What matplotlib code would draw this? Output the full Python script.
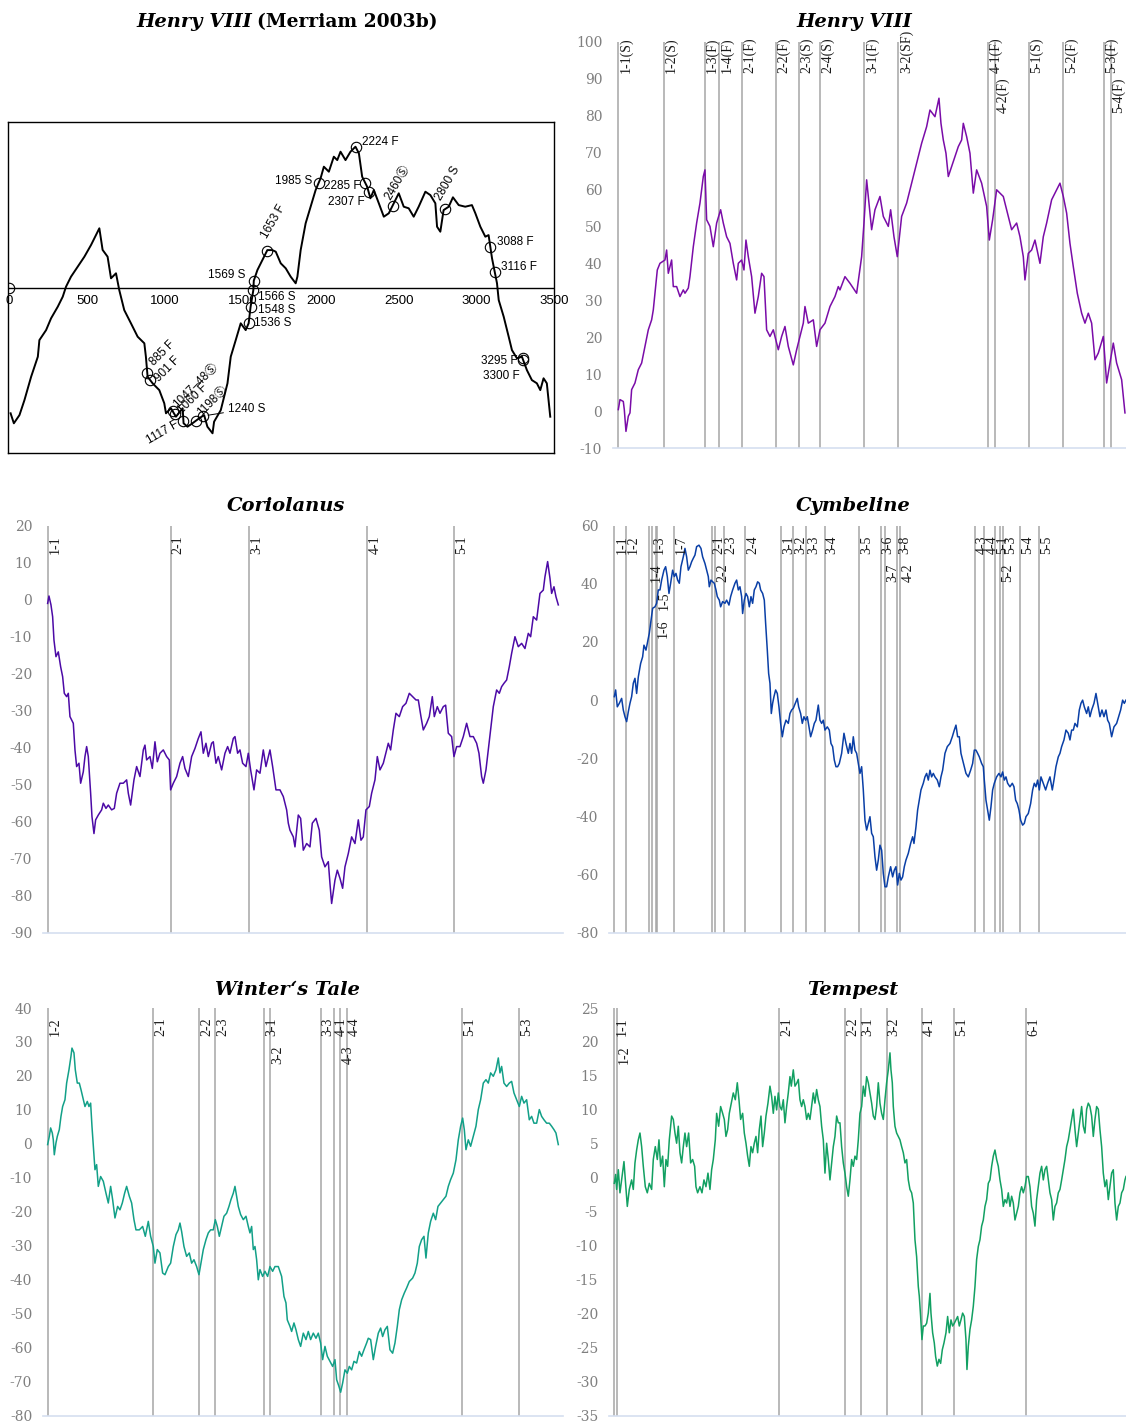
import numpy as np
import matplotlib.pyplot as plt

plt.rcParams['axes.unicode_minus'] = False

W, H = 1126, 1421

# ---------------- Henry VIII, Merriam (2003b) cumulative plot (word position, score)
merriam_pts = [(7, -62.8), (28, -67.8), (64, -63.7), (96, -56.2), (139, -44.5), (182, -34.5),
               (192, -26.2), (235, -21.2), (267, -15.3), (310, -9.5), (342, -4.5), (363, 0.5),
               (395, 5.5), (438, 10.5), (481, 15.5), (524, 21.4), (577, 29.7), (598, 18.9),
               (630, 15.5), (652, 4.7), (684, 7.2), (705, -1.2), (737, -11.2), (780, -17.8),
               (823, -24.5), (866, -27.8), (876, -34.5), (887, -44.5), (919, -47.8), (962, -51.2),
               (994, -57.8), (1005, -62.8), (1037, -60.3), (1069, -64.5), (1112, -60.3), (1118, -67.8),
               (1143, -69.5), (1175, -67.8), (1218, -65.3), (1250, -63.7), (1271, -69.5), (1304, -72.8),
               (1314, -67.0), (1357, -61.2), (1400, -47.8), (1421, -34.5), (1453, -26.2), (1485, -17.8),
               (1517, -21.2), (1536, -17.8), (1548, -9.8), (1566, -1.2), (1569, 3.5), (1592, 8.8),
               (1635, 15.5), (1656, 18.8), (1688, 18.8), (1710, 18.0), (1742, 12.2), (1774, 9.7),
               (1806, 5.5), (1838, 2.2), (1849, 5.5), (1870, 18.8), (1902, 32.2), (1934, 40.5),
               (1966, 48.8), (1998, 54.7), (2019, 60.5), (2051, 58.0), (2083, 65.5), (2105, 63.8),
               (2126, 68.0), (2158, 63.8), (2190, 68.0), (2222, 70.5), (2244, 67.2), (2265, 55.5),
               (2297, 50.5), (2318, 44.7), (2340, 48.8), (2372, 42.2), (2404, 35.5), (2436, 37.2),
               (2468, 42.2), (2500, 47.2), (2532, 40.5), (2564, 39.7), (2596, 35.5), (2628, 40.5),
               (2671, 48.0), (2703, 46.3), (2735, 42.2), (2746, 30.5), (2767, 28.0), (2788, 38.8),
               (2821, 40.5), (2848, 45.2), (2885, 41.3), (2927, 40.5), (2970, 41.3), (2992, 37.2),
               (3024, 30.5), (3056, 25.5), (3077, 26.3), (3099, 14.7), (3131, 2.2), (3142, -6.2),
               (3174, -14.5), (3206, -24.5), (3227, -31.2), (3259, -35.3), (3291, -34.5), (3323, -41.2),
               (3355, -46.2), (3387, -47.8), (3409, -51.2), (3430, -45.3), (3451, -47.8), (3473, -64.5)]
merriam_ticks = [0, 500, 1000, 1500, 2000, 2500, 3000, 3500]
merriam_notes = [('885 F', 885), ('901 F', 901), ('1047\u201348\u24c8', 1047), ('1060 F', 1060),
                 ('1198\u24c8', 1198), ('1117 F', 1117), ('1240 S', 1240), ('1536 S', 1536),
                 ('1548 S', 1548), ('1566 S', 1566), ('1569 S', 1569), ('1653 F', 1653),
                 ('1985 S', 1985), ('2224 F', 2224), ('2285 F', 2285), ('2307 F', 2307),
                 ('2460\u24c8', 2460), ('2800 S', 2800), ('3088 F', 3088), ('3116 F', 3116),
                 ('3295 F', 3295), ('3300 F', 3300)]
# text placement (offset px from the circle, rotation, alignment)
note_place = [(5, 9, 45, 'left'), (7, 0, 45, 'left'), (3, 5, 45, 'left'), (5, 2, 45, 'left'),
              (3, 6, 45, 'left'), (-5, -3, 30, 'right'), (25, 7, 0, 'left'), (5, 0, 0, 'left'),
              (7, -3, 0, 'left'), (5, -7, 0, 'left'), (-8, 6, 0, 'right'), (-2, 14, 60, 'left'),
              (-6, 2, 0, 'right'), (6, 5, 0, 'left'), (-5, -3, 0, 'right'), (-4, -10, 0, 'right'),
              (-5, 7, 60, 'left'), (-7, 9, 60, 'left'), (7, 5, 0, 'left'), (6, 5, 0, 'left'),
              (-5, -3, 0, 'right'), (-4, -16, 0, 'right')]

# ---------------- Henry VIII (position in play, cumulative score)
henry = [(0, 0.4), (5, 3.1), (15, 2.6), (18, 0.4), (23, -5.5), (30, -1.4), (35, -0.5), (40, 5.8),
         (50, 7.6), (60, 11.2), (70, 13.0), (80, 17.5), (90, 22.0), (100, 24.7), (105, 27.4),
         (117, 38.2), (125, 40.0), (140, 40.9), (145, 43.6), (150, 37.3), (160, 40.9), (165, 33.7),
         (175, 33.7), (185, 31.0), (195, 32.8), (200, 31.9), (210, 33.3), (215, 36.4), (225, 44.5),
         (235, 50.9), (245, 56.3), (255, 63.5), (260, 65.3), (265, 51.8), (275, 50.0), (285, 44.5),
         (295, 50.9), (307, 54.5), (315, 50.9), (325, 47.2), (335, 45.4), (345, 40.0), (355, 35.5),
         (360, 40.0), (370, 40.9), (377, 38.2), (383, 46.3), (390, 41.8), (400, 36.4), (410, 26.5),
         (420, 31.0), (430, 37.3), (437, 36.4), (445, 22.0), (455, 20.2), (465, 22.0), (480, 16.6),
         (490, 20.2), (500, 22.9), (510, 17.5), (525, 12.5), (535, 16.6), (545, 20.2), (555, 23.8),
         (560, 28.3), (570, 23.8), (585, 24.7), (595, 17.5), (605, 22.0), (620, 23.8), (635, 28.3),
         (650, 31.0), (660, 33.7), (665, 32.8), (680, 36.4), (695, 34.6), (715, 31.9), (730, 41.8),
         (737, 50.9), (745, 62.6), (760, 49.1), (770, 54.5), (785, 58.1), (795, 52.7), (810, 50.0),
         (817, 54.5), (827, 47.2), (837, 41.8), (850, 52.7), (865, 56.3), (880, 61.7), (895, 67.1),
         (910, 72.5), (925, 77.0), (935, 81.5), (950, 79.7), (962, 84.7), (968, 77.9), (975, 73.4),
         (983, 69.8), (990, 63.5), (1000, 66.2), (1010, 68.9), (1020, 71.6), (1030, 73.4), (1035, 77.9),
         (1045, 74.3), (1055, 69.8), (1065, 59.0), (1075, 65.3), (1090, 61.7), (1105, 55.4), (1113, 46.3),
         (1123, 51.8), (1135, 59.9), (1145, 59.0), (1155, 58.1), (1165, 54.5), (1180, 49.1), (1195, 50.9),
         (1205, 47.2), (1215, 41.8), (1220, 35.5), (1230, 42.7), (1240, 43.6), (1250, 46.3), (1265, 40.0),
         (1275, 47.2), (1285, 50.9), (1300, 57.2), (1310, 59.0), (1325, 61.7), (1335, 58.1), (1345, 53.6),
         (1355, 45.4), (1365, 39.1), (1377, 31.9), (1390, 26.5), (1400, 23.8), (1410, 26.5), (1420, 23.8),
         (1430, 13.9), (1440, 15.7), (1455, 20.2), (1465, 7.6), (1475, 13.0), (1485, 18.4), (1495, 13.0),
         (1510, 8.5), (1520, -0.5)]
henry_scenes = ['1-1(S)', '1-2(S)', '1-3(F)', '1-4(F)', '2-1(F)', '2-2(F)', '2-3(S)', '2-4(S)',
                '3-1(F)', '3-2(SF)', '4-1(F)', '4-2(F)', '5-1(S)', '5-2(F)', '5-3(F)', '5-4(F)']
henry_scene_x = [0, 136, 259, 303, 370, 473, 542, 606, 738, 840, 1110, 1131, 1232, 1335, 1456, 1478]
henry_rows = [1, 1, 1, 1, 1, 1, 1, 1, 1, 1, 1, 2, 1, 1, 1, 2]

# ---------------- Coriolanus
coriolanus = [(0, -1.0), (4, 1.0), (10, -1.4), (15, -4.6), (19, -10.9), (25, -15.4), (32, -14.1),
              (39, -18.1), (45, -20.8), (50, -25.3), (57, -26.2), (62, -25.3), (67, -31.6), (72, -32.5),
              (77, -33.4), (82, -40.6), (87, -45.1), (94, -44.2), (99, -49.6), (107, -46.5), (112, -42.4),
              (117, -39.7), (122, -42.4), (129, -52.3), (133, -58.6), (139, -63.2), (144, -59.5),
              (152, -58.2), (162, -56.8), (167, -55.0), (175, -56.4), (182, -55.5), (192, -56.8),
              (200, -56.4), (207, -52.3), (217, -49.6), (227, -49.6), (237, -48.7), (242, -52.3),
              (249, -55.5), (259, -48.7), (267, -45.1), (277, -47.8), (287, -40.6), (292, -39.3),
              (297, -43.3), (307, -42.4), (314, -45.6), (322, -38.4), (329, -43.8), (337, -41.5),
              (347, -40.6), (357, -42.4), (365, -43.3), (369, -51.4), (377, -49.6), (387, -47.8),
              (397, -44.2), (405, -42.4), (412, -45.6), (422, -47.8), (432, -42.4), (442, -40.2),
              (452, -37.5), (460, -35.7), (467, -41.5), (475, -38.8), (482, -42.4), (492, -38.8),
              (497, -38.4), (505, -44.2), (512, -42.4), (522, -46.0), (532, -41.5), (540, -39.7),
              (547, -41.5), (557, -37.5), (562, -37.0), (570, -41.5), (577, -40.6), (585, -44.2),
              (595, -45.1), (602, -41.5), (609, -46.0), (619, -51.4), (627, -46.0), (637, -46.9),
              (647, -40.6), (655, -45.1), (667, -40.6), (675, -45.1), (685, -51.4), (697, -51.4),
              (707, -53.2), (717, -56.8), (722, -60.4), (727, -62.3), (737, -64.1), (742, -66.8),
              (752, -58.2), (759, -59.1), (767, -67.7), (777, -65.9), (787, -66.8), (794, -60.4),
              (805, -59.1), (815, -62.3), (822, -69.5), (832, -72.2), (842, -70.8), (847, -76.7),
              (852, -82.1), (862, -75.8), (869, -73.1), (877, -75.3), (885, -78.0), (892, -72.2),
              (902, -68.6), (912, -64.1), (922, -65.9), (932, -59.5), (940, -65.0), (947, -64.1),
              (955, -56.8), (965, -55.9), (972, -52.3), (982, -48.7), (989, -42.4), (997, -46.0),
              (1007, -44.2), (1017, -40.6), (1022, -38.8), (1029, -40.6), (1037, -35.2), (1045, -30.7),
              (1055, -31.6), (1065, -28.9), (1075, -28.0), (1085, -25.3), (1095, -26.2), (1105, -27.1),
              (1112, -27.1), (1120, -31.6), (1127, -35.2), (1137, -33.4), (1145, -31.6), (1154, -26.2),
              (1160, -31.6), (1169, -28.9), (1177, -30.7), (1187, -28.9), (1194, -28.5), (1202, -36.1),
              (1212, -37.0), (1219, -42.4), (1227, -39.7), (1237, -39.7), (1247, -37.0), (1257, -33.4),
              (1267, -37.0), (1277, -37.0), (1287, -38.8), (1294, -41.5), (1302, -47.8), (1307, -49.6),
              (1315, -46.0), (1322, -40.6), (1329, -35.2), (1337, -28.9), (1347, -24.4), (1355, -25.3),
              (1362, -23.5), (1369, -22.6), (1377, -21.7), (1385, -18.1), (1392, -14.5), (1402, -10.0),
              (1412, -12.7), (1422, -11.8), (1432, -13.2), (1442, -9.1), (1449, -10.0), (1457, -4.6),
              (1467, -5.5), (1477, 1.7), (1487, 2.6), (1492, 6.2), (1500, 10.3), (1507, 5.8),
              (1512, 1.7), (1519, 3.5), (1525, 0.8), (1532, -1.4)]
coriolanus_scenes = ['1-1', '2-1', '3-1', '4-1', '5-1']
coriolanus_scene_x = [0, 369, 605, 959, 1219]
coriolanus_rows = [1, 1, 1, 1, 1]

# ---------------- Cymbeline
cymbeline = [(0, 1.2), (4, 3.5), (9, -2.3), (15, -1.1), (22, 0.6), (27, -3.4), (32, -5.7), (37, -7.4),
             (42, -4.0), (47, -1.1), (52, 1.2), (57, 5.8), (62, 7.5), (67, 2.3), (72, 8.0), (79, 12.6),
             (85, 14.9), (89, 18.9), (95, 17.2), (99, 19.5), (105, 23.0), (109, 26.4), (115, 31.6),
             (122, 32.1), (127, 33.3), (132, 37.9), (137, 37.9), (142, 41.3), (149, 44.7), (154, 45.9),
             (159, 42.5), (164, 36.7), (169, 40.2), (175, 44.7), (180, 42.5), (185, 43.6), (190, 41.3),
             (195, 40.2), (200, 45.9), (207, 49.3), (212, 52.2), (217, 49.3), (222, 44.7), (227, 45.9),
             (232, 47.6), (237, 48.8), (242, 49.9), (247, 52.8), (254, 53.3), (260, 52.2), (265, 49.3),
             (272, 47.0), (277, 44.7), (282, 42.5), (285, 39.0), (290, 41.3), (295, 40.7), (300, 40.2),
             (305, 37.9), (309, 35.6), (315, 34.4), (319, 32.1), (325, 33.9), (332, 33.3), (337, 34.4),
             (344, 32.7), (349, 35.6), (355, 37.9), (362, 40.2), (367, 41.3), (372, 37.9), (377, 39.0),
             (382, 35.6), (385, 29.8), (390, 34.4), (395, 36.7), (400, 35.6), (405, 32.1), (410, 35.6),
             (415, 33.3), (420, 37.9), (425, 39.0), (430, 40.7), (435, 40.2), (439, 37.9), (445, 36.7),
             (450, 34.4), (454, 26.4), (459, 17.2), (463, 9.2), (467, 5.8), (471, -4.6), (475, -1.1),
             (479, 1.2), (484, 3.5), (489, 2.3), (494, -2.3), (499, -8.0), (504, -12.6), (509, -9.2),
             (515, -6.9), (522, -8.0), (527, -4.6), (532, -3.4), (537, -2.8), (543, -1.1), (549, 0.6),
             (553, -2.3), (559, -4.6), (564, -8.0), (569, -5.7), (574, -6.9), (579, -5.7), (584, -9.2),
             (589, -12.6), (595, -10.3), (600, -8.0), (605, -6.9), (612, -1.7), (617, -6.9), (622, -8.0),
             (627, -6.9), (632, -10.3), (639, -9.2), (645, -10.3), (650, -14.9), (655, -16.0), (660, -20.6),
             (665, -22.9), (670, -22.9), (675, -21.8), (682, -18.3), (689, -11.4), (695, -14.9),
             (702, -18.3), (707, -14.9), (712, -18.3), (717, -12.6), (722, -17.2), (727, -18.3),
             (732, -21.8), (737, -25.2), (742, -22.9), (747, -30.9), (752, -41.3), (757, -44.7),
             (762, -42.4), (767, -40.1), (772, -45.8), (777, -47.0), (782, -53.9), (787, -58.5),
             (792, -55.0), (797, -49.9), (802, -51.6), (807, -59.6), (812, -64.2), (817, -64.2),
             (822, -60.8), (829, -57.3), (835, -60.8), (840, -58.5), (845, -57.3), (850, -63.6),
             (855, -59.6), (860, -61.9), (865, -60.8), (870, -57.3), (875, -55.0), (882, -52.7),
             (889, -49.3), (895, -47.0), (899, -49.3), (905, -43.6), (910, -37.8), (915, -34.4),
             (920, -30.9), (927, -28.6), (932, -26.4), (937, -25.2), (942, -27.5), (947, -24.1),
             (952, -26.4), (957, -25.2), (962, -26.4), (969, -27.5), (975, -29.8), (980, -26.4),
             (985, -24.1), (992, -18.3), (999, -16.0), (1007, -14.9), (1014, -12.6), (1020, -10.3),
             (1025, -8.6), (1030, -12.6), (1035, -12.6), (1040, -18.3), (1045, -20.6), (1050, -22.9),
             (1055, -25.2), (1062, -26.4), (1069, -24.1), (1075, -21.8), (1080, -17.2), (1085, -17.2),
             (1090, -18.3), (1095, -19.5), (1102, -21.8), (1107, -22.9), (1110, -27.5), (1115, -34.4),
             (1120, -37.8), (1125, -41.3), (1130, -36.7), (1135, -30.9), (1140, -28.6), (1147, -26.4),
             (1154, -25.2), (1160, -26.4), (1165, -24.7), (1170, -27.5), (1175, -26.4), (1180, -28.6),
             (1187, -29.8), (1194, -28.6), (1199, -29.8), (1204, -34.4), (1209, -35.6), (1214, -37.8),
             (1219, -41.3), (1225, -43.0), (1230, -42.4), (1235, -40.1), (1242, -39.0), (1249, -35.6),
             (1255, -30.9), (1260, -28.6), (1265, -29.8), (1270, -27.5), (1275, -30.9), (1280, -26.4),
             (1287, -28.6), (1294, -30.9), (1300, -28.6), (1307, -26.4), (1314, -30.9), (1319, -27.5),
             (1325, -22.9), (1332, -19.5), (1337, -18.3), (1342, -16.0), (1349, -13.7), (1355, -10.3),
             (1362, -11.4), (1367, -13.7), (1372, -10.3), (1377, -10.3), (1382, -8.0), (1389, -9.2),
             (1395, -3.4), (1400, -1.1), (1405, 0.0), (1410, -2.3), (1417, -4.6), (1422, -2.3),
             (1427, -5.7), (1432, -3.4), (1439, -1.1), (1445, 2.3), (1450, -1.1), (1457, -5.7),
             (1463, -3.4), (1469, -5.7), (1475, -3.4), (1480, -6.9), (1485, -8.0), (1492, -12.6),
             (1499, -9.2), (1507, -8.0), (1513, -5.7), (1519, -3.4), (1525, 0.0), (1530, -1.1), (1535, 0.0)]
cymbeline_scenes = ['1-1', '1-2', '1-3', '1-4', '1-5', '1-6', '1-7', '2-1', '2-2', '2-3', '2-4',
                    '3-1', '3-2', '3-3', '3-4', '3-5', '3-6', '3-7', '3-8', '4-2', '4-3', '4-4',
                    '5-1', '5-2', '5-3', '5-4', '5-5']
cymbeline_scene_x = [0, 35, 112, 104, 127, 125, 179, 292, 303, 328, 393, 501, 536, 575, 631, 734,
                     799, 812, 849, 858, 1082, 1110, 1143, 1157, 1167, 1217, 1273]
cymbeline_rows = [1, 1, 1, 2, 3, 4, 1, 1, 2, 1, 1, 1, 1, 1, 1, 1, 1, 2, 1, 2, 1, 1, 1, 2, 1, 1, 1]

# ---------------- Winter's Tale
winters = [(0, -0.2), (5, 2.2), (9, 4.7), (14, 3.2), (17, 1.2), (20, -3.2), (25, 0.3), (29, 2.2),
           (35, 4.2), (40, 8.1), (45, 11.0), (52, 13.0), (57, 17.9), (64, 21.8), (70, 25.8), (73, 28.2),
           (79, 26.8), (83, 21.8), (89, 17.9), (95, 17.9), (100, 16.0), (107, 13.0), (112, 11.0),
           (119, 12.5), (124, 11.0), (129, 12.0), (133, 5.2), (137, -0.7), (142, -7.6), (147, -6.1),
           (152, -12.5), (159, -9.6), (167, -11.0), (175, -14.5), (182, -17.4), (189, -12.5), (195, -16.4),
           (202, -21.8), (210, -18.4), (217, -19.4), (224, -17.4), (231, -14.5), (237, -12.5), (245, -15.4),
           (252, -17.4), (259, -22.3), (265, -25.3), (275, -25.3), (285, -24.3), (293, -27.2), (302, -22.8),
           (309, -27.2), (317, -30.2), (322, -35.1), (329, -31.1), (337, -32.1), (345, -38.0), (352, -38.5),
           (362, -36.1), (369, -35.1), (377, -30.2), (385, -26.7), (392, -25.3), (397, -23.3), (402, -25.8),
           (409, -30.2), (417, -33.1), (425, -32.1), (432, -35.1), (439, -34.1), (447, -36.1), (454, -38.5),
           (460, -35.1), (467, -31.1), (475, -28.2), (482, -26.2), (489, -25.3), (497, -25.3), (503, -22.3),
           (509, -24.3), (515, -27.2), (522, -24.3), (529, -21.3), (537, -20.4), (544, -18.4), (550, -16.4),
           (557, -14.5), (562, -12.5), (567, -15.4), (572, -18.4), (579, -20.8), (587, -22.3), (595, -21.3),
           (602, -24.3), (607, -26.2), (612, -24.3), (617, -31.1), (622, -30.2), (627, -34.1), (632, -40.0),
           (637, -37.0), (645, -39.0), (652, -37.5), (660, -39.0), (667, -36.1), (675, -37.5), (682, -36.1),
           (692, -36.1), (702, -39.0), (709, -44.9), (715, -46.8), (719, -51.8), (727, -53.7), (732, -55.2),
           (739, -52.7), (745, -54.7), (752, -57.6), (759, -59.6), (767, -55.7), (775, -57.6), (782, -55.2),
           (789, -57.6), (797, -55.7), (805, -57.2), (812, -55.7), (819, -58.6), (825, -63.5), (832, -59.6),
           (839, -62.5), (847, -64.0), (855, -65.5), (862, -63.5), (867, -69.4), (874, -71.4), (879, -73.1),
           (885, -70.4), (892, -66.5), (899, -67.5), (905, -65.5), (912, -66.5), (919, -64.0), (927, -64.5),
           (935, -61.1), (942, -62.5), (949, -60.6), (957, -58.6), (962, -57.2), (969, -57.6), (977, -63.5),
           (984, -59.6), (992, -55.7), (999, -54.2), (1005, -56.7), (1012, -54.7), (1019, -53.7),
           (1027, -60.6), (1035, -61.6), (1042, -58.6), (1049, -53.7), (1055, -48.8), (1062, -45.9),
           (1070, -43.9), (1077, -42.4), (1085, -40.5), (1095, -39.5), (1102, -38.0), (1109, -35.1),
           (1115, -30.2), (1122, -28.2), (1129, -27.2), (1135, -33.6), (1142, -26.2), (1149, -22.8),
           (1157, -20.4), (1164, -22.3), (1171, -18.4), (1179, -17.4), (1187, -16.4), (1195, -15.4),
           (1202, -12.5), (1209, -10.5), (1217, -8.6), (1225, -4.7), (1232, 1.2), (1239, 5.2), (1245, 7.6),
           (1250, 4.2), (1255, -1.7), (1262, 1.2), (1269, -0.7), (1277, 2.2), (1285, 5.2), (1292, 10.1),
           (1299, 13.0), (1307, 17.9), (1315, 18.9), (1322, 17.9), (1329, 20.9), (1337, 19.9), (1345, 21.8),
           (1352, 25.3), (1357, 20.9), (1362, 22.8), (1369, 17.9), (1377, 16.9), (1385, 17.9), (1392, 18.4),
           (1399, 15.0), (1407, 13.0), (1415, 11.0), (1422, 14.0), (1429, 12.0), (1437, 13.0), (1445, 7.1),
           (1452, 8.1), (1459, 6.1), (1467, 6.1), (1475, 10.1), (1482, 8.1), (1489, 7.1), (1497, 6.1),
           (1505, 6.1), (1512, 5.2), (1519, 4.2), (1525, 3.2), (1532, -0.2)]
winters_scenes = ['1-2', '2-1', '2-2', '2-3', '3-1', '3-2', '3-3', '4-1', '4-3', '4-4', '5-1', '5-3']
winters_scene_x = [0, 316, 454, 502, 650, 667, 819, 859, 878, 897, 1242, 1414]
winters_rows = [1, 1, 1, 1, 1, 2, 1, 1, 2, 1, 1, 1]

# ---------------- Tempest
tempest = [(0, -0.8), (4, 0.5), (7, -1.7), (12, 1.2), (17, -2.2), (22, -0.3), (29, 2.4), (34, -0.8),
           (39, -4.2), (45, -1.7), (52, -0.3), (57, -1.7), (62, 2.2), (67, 4.1), (72, 5.6), (77, 6.6),
           (82, 4.6), (87, 1.7), (93, -1.3), (99, -2.2), (105, -0.8), (112, -1.7), (117, 2.7), (123, 4.6),
           (129, 2.7), (134, 5.6), (139, 1.7), (145, 3.2), (150, -1.3), (155, 2.7), (160, 1.7), (165, 5.6),
           (172, 9.1), (177, 8.6), (182, 6.6), (187, 5.1), (192, 7.6), (197, 3.7), (202, 2.2), (207, 4.6),
           (212, 6.6), (217, 4.6), (223, 6.6), (229, 2.2), (235, 2.7), (241, 1.7), (245, -1.3), (250, -2.2),
           (257, -1.3), (263, -2.2), (269, -0.3), (275, -1.3), (281, 0.7), (287, -1.7), (292, 1.2),
           (297, 2.7), (303, 5.6), (307, 9.5), (313, 7.6), (319, 10.5), (325, 9.5), (330, 8.6), (335, 6.1),
           (340, 7.1), (345, 9.5), (351, 11.0), (357, 12.5), (363, 11.5), (369, 14.0), (374, 11.5),
           (379, 8.6), (385, 9.5), (390, 6.6), (395, 5.1), (400, 3.2), (405, 1.7), (410, 4.6), (415, 3.7),
           (420, 5.1), (425, 6.1), (430, 3.7), (435, 7.1), (440, 9.1), (445, 4.6), (450, 6.6), (455, 9.1),
           (461, 11.0), (467, 13.5), (472, 12.0), (477, 9.5), (482, 12.0), (487, 10.0), (492, 12.5),
           (497, 10.5), (502, 10.0), (507, 11.5), (512, 8.1), (517, 10.5), (522, 12.5), (527, 14.9),
           (531, 13.5), (537, 15.9), (542, 13.5), (547, 13.9), (552, 14.5), (557, 11.5), (562, 10.5),
           (567, 11.5), (572, 10.5), (577, 8.6), (582, 9.5), (587, 8.6), (592, 10.5), (597, 12.5),
           (602, 11.0), (607, 13.0), (612, 11.5), (617, 10.5), (622, 7.6), (627, 5.6), (632, 0.7),
           (637, 5.1), (642, 2.7), (647, -0.3), (652, 2.2), (657, 4.6), (662, 6.1), (667, 9.1), (672, 8.1),
           (677, 8.1), (682, 4.6), (687, 2.2), (692, 0.7), (697, -1.3), (702, -2.7), (707, -0.3),
           (712, 2.7), (717, 1.7), (722, 3.2), (727, 2.7), (732, 5.6), (737, 9.5), (742, 10.5), (747, 13.5),
           (752, 12.0), (757, 14.9), (762, 14.0), (767, 12.5), (772, 11.0), (777, 9.1), (782, 8.6),
           (787, 10.5), (792, 14.0), (797, 11.0), (802, 9.5), (807, 8.6), (812, 11.5), (817, 14.0),
           (822, 15.9), (827, 18.4), (830, 15.9), (834, 14.0), (837, 10.5), (842, 7.6), (847, 6.6),
           (852, 6.1), (857, 5.6), (862, 4.6), (867, 3.7), (872, 2.2), (877, 2.7), (882, -0.3), (887, -1.7),
           (892, -2.2), (897, -3.7), (902, -9.1), (907, -11.6), (912, -16.0), (915, -17.4), (919, -20.4),
           (923, -23.8), (927, -21.8), (932, -21.8), (937, -21.4), (942, -19.9), (947, -17.0), (950, -19.9),
           (955, -22.8), (960, -24.3), (964, -26.3), (969, -27.7), (974, -26.7), (979, -27.3), (984, -25.3),
           (989, -24.3), (995, -22.8), (1000, -20.4), (1005, -22.8), (1010, -20.9), (1015, -21.8),
           (1020, -21.4), (1025, -20.9), (1030, -20.4), (1035, -21.8), (1040, -20.9), (1045, -19.9),
           (1050, -20.4), (1055, -23.8), (1058, -28.2), (1062, -24.8), (1067, -22.3), (1072, -20.9),
           (1077, -18.9), (1082, -16.0), (1087, -12.0), (1092, -10.1), (1097, -9.1), (1102, -7.1),
           (1107, -6.2), (1112, -4.2), (1117, -3.2), (1122, -0.8), (1127, -0.3), (1132, 1.7), (1137, 3.2),
           (1142, 4.1), (1147, 2.7), (1152, 1.7), (1157, -0.3), (1162, -1.7), (1167, -4.2), (1172, -3.2),
           (1177, -3.7), (1182, -2.2), (1187, -4.2), (1192, -2.7), (1197, -3.7), (1202, -6.2), (1207, -5.2),
           (1212, -4.2), (1217, -2.2), (1222, -1.3), (1227, -2.2), (1232, -1.3), (1237, 0.2), (1242, 0.2),
           (1247, -1.3), (1252, -4.2), (1257, -5.2), (1262, -7.1), (1267, -3.2), (1272, -1.3), (1277, 0.7),
           (1282, 1.7), (1287, -0.3), (1292, 1.2), (1297, 1.7), (1302, -0.3), (1307, -2.2), (1312, -3.2),
           (1317, -6.2), (1322, -4.2), (1327, -3.7), (1332, -2.2), (1337, -1.7), (1342, -0.3), (1347, 1.2),
           (1352, 2.7), (1357, 4.6), (1362, 5.6), (1367, 7.1), (1372, 8.6), (1377, 10.1), (1382, 7.1),
           (1387, 4.6), (1392, 6.6), (1397, 8.6), (1402, 10.5), (1407, 7.6), (1412, 6.6), (1417, 10.1),
           (1422, 11.0), (1427, 10.5), (1432, 9.1), (1437, 6.1), (1442, 8.6), (1447, 10.5), (1452, 10.1),
           (1457, 7.1), (1462, 4.6), (1467, 0.7), (1472, -1.3), (1477, -0.3), (1482, -3.2), (1487, -1.3),
           (1492, 0.7), (1497, 1.2), (1502, -3.7), (1507, -6.2), (1512, -4.2), (1517, -3.7), (1522, -2.2),
           (1527, -1.7), (1532, -0.3), (1535, 0.2)]
tempest_scenes = ['1-1', '1-2', '2-1', '2-2', '3-1', '3-2', '4-1', '5-1', '6-1']
tempest_scene_x = [0, 7, 495, 692, 739, 817, 922, 1020, 1236]
tempest_rows = [1, 2, 1, 1, 1, 1, 1, 1, 1]


fig = plt.figure(figsize=(W / 100, H / 100), dpi=100)


def box(left, top, right, bottom):
    return [left / W, 1 - bottom / H, (right - left) / W, (bottom - top) / H]


def title(x, y, s, **kw):
    fig.text(x / W, 1 - y / H, s, ha='center', va='center', family='DejaVu Serif',
             fontsize=14, fontweight='bold', **kw)


def excel_panel(rect, x0, pts, color, scenes, scene_x, rows, ylim, yticks, first, step):
    ax = fig.add_axes(rect)
    xs, ys = zip(*pts)
    for sx in scene_x:
        ax.axvline(sx, color='#a6a6a6', lw=1.1, zorder=1)
    ax.plot(xs, ys, color=color, lw=1.1, zorder=3)
    width_px = rect[2] * W
    ax.set_xlim(-x0, -x0 + width_px * 3)
    ax.set_ylim(*ylim)
    ax.set_yticks(yticks)
    ax.set_xticks([])
    for s in ['top', 'left', 'right']:
        ax.spines[s].set_visible(False)
    ax.spines['bottom'].set_color('#d5dff0')
    ax.spines['bottom'].set_linewidth(1.2)
    ax.tick_params(axis='y', length=0, pad=8, labelcolor='#7f7f7f', labelsize=10)
    for lab in ax.get_yticklabels():
        lab.set_family('DejaVu Serif')
    for s, sx, r in zip(scenes, scene_x, rows):
        ax.annotate(s, xy=(sx, 1), xycoords=ax.get_xaxis_transform(),
                    xytext=(1, -(first + (r - 1) * step)), textcoords='offset pixels',
                    rotation=90, ha='left', va='bottom', fontsize=10,
                    family='Liberation Serif', color='#1a1a1a', annotation_clip=False)
    return ax


# ---- Merriam replica panel
axm = fig.add_axes(box(8.3, 121.7, 554.3, 453.3))
mx, my = zip(*merriam_pts)
axm.plot(mx, my, color='black', lw=1.4, zorder=3)
axm.axhline(0, color='black', lw=1.0, zorder=2)
axm.set_xlim(-7.7, 3499)
axm.set_ylim(-82.8, 83)
axm.set_xticks([])
axm.set_yticks([])
for s in axm.spines.values():
    s.set_color('black')
    s.set_linewidth(1.0)
for t in merriam_ticks:
    axm.text(t, -3.5, str(t), ha='center', va='top', fontsize=9.5,
             family='Liberation Sans', clip_on=False)
axm.plot(0, 0, 'o', mfc='none', mec='black', ms=7.5, mew=0.8, zorder=4)
for (lab, w), (dx, dy, rot, ha) in zip(merriam_notes, note_place):
    yv = np.interp(w, mx, my)
    axm.plot(w, yv, 'o', mfc='none', mec='black', ms=7.5, mew=0.8, zorder=4)
    arrow = dict(arrowstyle='-', color='black', lw=0.7, shrinkA=1, shrinkB=4) if lab == '1240 S' else None
    axm.annotate(lab, xy=(w, yv), xytext=(dx, dy), textcoords='offset pixels', rotation=rot,
                 rotation_mode='anchor', ha=ha, va='center', fontsize=8.5,
                 family=['Liberation Sans', 'Noto Sans CJK JP', 'DejaVu Sans'], arrowprops=arrow)

fig.text(252 / W, 1 - 22 / H, 'Henry VIII', ha='right', va='center', family='DejaVu Serif',
         fontsize=14, fontweight='bold', style='italic')
fig.text(257 / W, 1 - 22 / H, '(Merriam 2003b)', ha='left', va='center', family='DejaVu Serif',
         fontsize=13.5, fontweight='bold')

# ---- Excel-style panels
excel_panel(box(613.3, 41.7, 1126, 448), 15, henry, '#7a0ca8', henry_scenes, henry_scene_x,
            henry_rows, (-10, 100), range(-10, 101, 10), 31, 40)
title(854, 22, 'Henry VIII', style='italic')

excel_panel(box(43.3, 525.7, 562.7, 932.7), 13, coriolanus, '#4c0aa6', coriolanus_scenes,
            coriolanus_scene_x, coriolanus_rows, (-90, 20), range(-90, 21, 10), 28, 28)
title(286, 506, 'Coriolanus', style='italic')

excel_panel(box(609.3, 525.7, 1126, 932.7), 15, cymbeline, '#0a3fa6', cymbeline_scenes,
            cymbeline_scene_x, cymbeline_rows, (-80, 60), range(-80, 61, 20), 28, 28)
title(853, 506, 'Cymbeline', style='italic')

excel_panel(box(43.3, 1008, 562.7, 1415.7), 13, winters, '#12a088', winters_scenes,
            winters_scene_x, winters_rows, (-80, 40), range(-80, 41, 10), 28, 28)
title(287, 990, 'Winter\u2018s Tale', style='italic')

excel_panel(box(609.3, 1008, 1126, 1415.7), 15, tempest, '#12a062', tempest_scenes,
            tempest_scene_x, tempest_rows, (-35, 25), range(-35, 26, 5), 28, 28)
title(853, 990, 'Tempest', style='italic')

fig.savefig('out.png', dpi=100)
